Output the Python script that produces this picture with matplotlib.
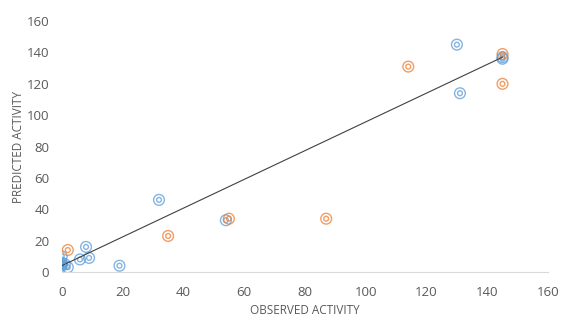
import matplotlib
matplotlib.use('Agg')
import matplotlib.pyplot as plt

# training set (blue) and test set (orange)
train_obs = [0, 0, 0, 1, 0, 2, 6, 8, 9, 19, 32, 54, 130, 131, 145, 145]
train_pred = [5, 6, 4, 5, 10, 3, 8, 16, 9, 4, 46, 33, 145, 114, 137, 136]
test_obs = [2, 35, 55, 87, 114, 145, 145]
test_pred = [14, 23, 34, 34, 131, 139, 120]
line_x = [0, 145]
line_y = [4, 137]

plt.rcParams['font.family'] = ['Open Sans', 'DejaVu Sans']

fig = plt.figure(figsize=(5.61, 3.2), dpi=100)
ax = fig.add_axes([0.11, 0.15, 0.867, 0.784])

blue = '#5b9bd5'
orange = '#ed7d31'

def rings(x, y, c):
    ax.scatter(x, y, s=60, facecolors='none', edgecolors=c, linewidths=1.0, alpha=0.75, zorder=3)
    ax.scatter(x, y, s=12, facecolors='none', edgecolors=c, linewidths=1.0, alpha=0.75, zorder=3)

rings(train_obs, train_pred, blue)
rings(test_obs, test_pred, orange)
ax.plot(line_x, line_y, color='#404040', lw=0.8, zorder=4)

ax.set_xlim(0, 160)
ax.set_ylim(0, 160)
ax.set_xticks(range(0, 161, 20))
ax.set_yticks(range(0, 161, 20))
for s in ['top', 'right', 'left']:
    ax.spines[s].set_visible(False)
ax.spines['bottom'].set_color('#d9d9d9')
ax.tick_params(length=0, labelsize=9.5, colors='#595959')
ax.tick_params(axis='x', pad=10)
ax.tick_params(axis='y', pad=9)
ax.set_xlabel('OBSERVED ACTIVITY', fontsize=8.5, color='#595959', labelpad=4)
ax.set_ylabel('PREDICTED ACTIVITY', fontsize=8.5, color='#595959', labelpad=1)

fig.savefig('out.png', dpi=100)
